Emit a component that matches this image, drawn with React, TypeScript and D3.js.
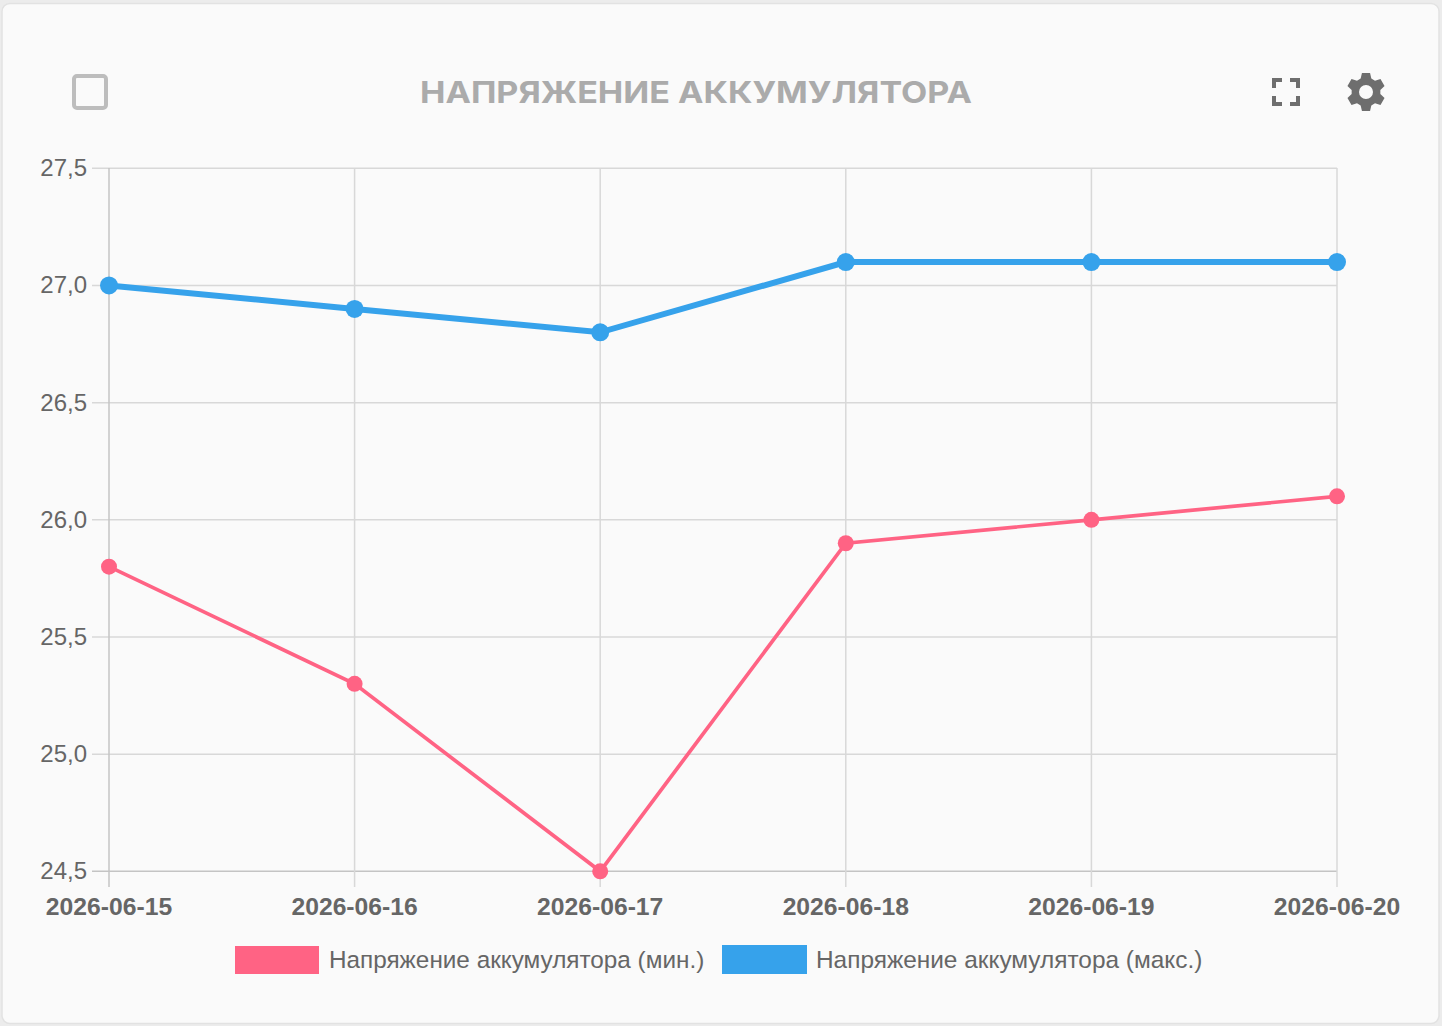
import React from "react";
import * as d3 from "d3";

const categories = ["2026-06-15", "2026-06-16", "2026-06-17", "2026-06-18", "2026-06-19", "2026-06-20"];
const minValues = [25.8, 25.3, 24.5, 25.9, 26.0, 26.1];
const maxValues = [27.0, 26.9, 26.8, 27.1, 27.1, 27.1];
const yTicks = [24.5, 25, 25.5, 26, 26.5, 27, 27.5];
const titleText = "НАПРЯЖЕНИЕ АККУМУЛЯТОРА";
const minLabel = "Напряжение аккумулятора (мин.)";
const maxLabel = "Напряжение аккумулятора (макс.)";

const W = 1442, H = 1026;
const PINK = "#ff6384", BLUE = "#36a2eb", TEXT = "#666666", GRID = "#d8d8d8", AXIS = "#c4c4c4";
const FONT = "'Liberation Sans', Arial, sans-serif";

function gearPath(cx: number, cy: number, rOuter: number, rInner: number, hole: number, teeth: number) {
  const p = d3.path();
  const step = (Math.PI * 2) / teeth;
  for (let i = 0; i < teeth; i++) {
    const a = -Math.PI / 2 + i * step;
    const pts: [number, number][] = [
      [rInner, a - step * 0.36],
      [rOuter, a - step * 0.2],
      [rOuter, a + step * 0.2],
      [rInner, a + step * 0.36],
    ];
    pts.forEach(([r, t], j) => {
      const x = cx + r * Math.cos(t), y = cy + r * Math.sin(t);
      if (i === 0 && j === 0) p.moveTo(x, y); else p.lineTo(x, y);
    });
  }
  p.closePath();
  p.moveTo(cx + hole, cy);
  p.arc(cx, cy, hole, 0, Math.PI * 2, true);
  p.closePath();
  return p.toString();
}

export default function App() {
  const x = d3.scalePoint<string>().domain(categories).range([109, 1337]);
  const y = d3.scaleLinear().domain([24.5, 27.5]).range([871.3, 168.3]);
  const line = d3.line<number>().x((_, i) => x(categories[i])!).y((d) => y(d));
  const fmt = (v: number) => v.toFixed(1).replace(".", ",");

  return (
    <svg width={W} height={H} viewBox={`0 0 ${W} ${H}`} style={{ position: "absolute", left: 0, top: 0, display: "block" }}>
      <rect x={0} y={0} width={W} height={H} fill="#ececec" />
      <rect x={2} y={3.5} width={W - 5} height={H - 6} rx={8} fill="#fafafa" stroke="#e2e2e2" strokeWidth={1.5} />

      <rect x={74} y={76} width={32} height={32} rx={3} fill="none" stroke="#bdbdbd" strokeWidth={4} />
      <text x={696} y={102.5} textAnchor="middle" fontFamily="Inter, sans-serif" fontWeight={700} fontSize={30} fill="#ababab" textLength={552} lengthAdjust="spacingAndGlyphs">{titleText}</text>
      <path fill="none" stroke="#6e6e6e" strokeWidth={4} d="M1274 88V80H1282M1290 80H1298V88M1298 96V104H1290M1282 104H1274V96" />
      <path fill="#6e6e6e" fillRule="evenodd" d={gearPath(1366, 92, 19.5, 14.5, 7, 6)} />

      {yTicks.map((t) => (
        <line key={t} x1={92} x2={1337} y1={y(t)} y2={y(t)} stroke={t === 24.5 ? AXIS : GRID} strokeWidth={1.5} />
      ))}
      {categories.map((c, i) => (
        <line key={c} x1={x(c)} x2={x(c)} y1={168} y2={887} stroke={i === 0 ? AXIS : GRID} strokeWidth={1.5} />
      ))}
      {yTicks.map((t) => (
        <text key={t} x={87} y={y(t) + 8} textAnchor="end" fontFamily={FONT} fontSize={24} fill={TEXT}>{fmt(t)}</text>
      ))}
      {categories.map((c) => (
        <text key={c} x={x(c)} y={915} textAnchor="middle" fontFamily={FONT} fontWeight={700} fontSize={24.7} fill={TEXT}>{c}</text>
      ))}

      <path d={line(minValues)!} fill="none" stroke={PINK} strokeWidth={3.7} />
      {minValues.map((v, i) => (
        <circle key={i} cx={x(categories[i])} cy={y(v)} r={8} fill={PINK} />
      ))}
      <path d={line(maxValues)!} fill="none" stroke={BLUE} strokeWidth={6} />
      {maxValues.map((v, i) => (
        <circle key={i} cx={x(categories[i])} cy={y(v)} r={9} fill={BLUE} />
      ))}

      <rect x={235} y={946} width={84} height={28} fill={PINK} />
      <text x={329} y={968} fontFamily={FONT} fontSize={24.3} fill={TEXT}>{minLabel}</text>
      <rect x={722} y={945} width={85} height={29} fill={BLUE} />
      <text x={816} y={968} fontFamily={FONT} fontSize={24.4} fill={TEXT}>{maxLabel}</text>
    </svg>
  );
}
